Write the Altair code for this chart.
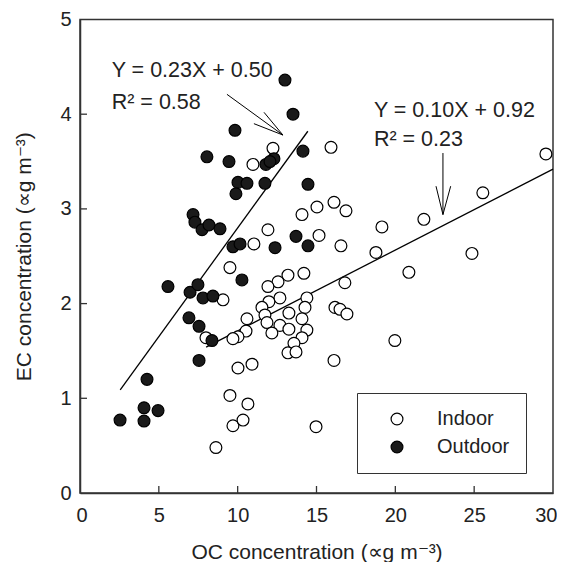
import altair as alt
import pandas as pd

# ---- data ----
indoor_oc = [12.24, 10.97, 15.92, 14.08, 15.03, 16.11, 16.87, 15.16, 19.15, 16.55,
             11.92, 11.03, 9.51, 13.19, 12.56, 11.92, 14.20, 16.80, 16.17, 16.49,
             16.93, 12.68, 11.98, 14.39, 14.27, 13.25, 11.54, 11.73, 10.59, 11.86,
             12.68, 14.08, 13.25, 12.17, 14.39, 14.08, 13.57, 13.19, 13.70, 10.53,
             10.02, 9.70, 9.07, 7.99, 10.02, 10.91, 16.11, 9.51, 10.65, 9.70,
             10.34, 8.62, 14.97, 21.81, 25.55, 29.55, 18.77, 24.86, 20.86, 19.97]
indoor_ec = [3.64, 3.47, 3.65, 2.94, 3.02, 3.07, 2.98, 2.72, 2.81, 2.61,
             2.78, 2.63, 2.38, 2.30, 2.23, 2.18, 2.32, 2.22, 1.96, 1.94,
             1.89, 2.06, 2.02, 2.06, 1.96, 1.90, 1.96, 1.88, 1.84, 1.80,
             1.77, 1.84, 1.73, 1.69, 1.72, 1.64, 1.58, 1.48, 1.49, 1.71,
             1.65, 1.63, 2.04, 1.64, 1.32, 1.36, 1.40, 1.03, 0.94, 0.71,
             0.77, 0.48, 0.70, 2.89, 3.17, 3.58, 2.54, 2.53, 2.33, 1.61]

outdoor_oc = [13.00, 13.51, 9.83, 8.05, 9.45, 14.14, 11.79, 12.30, 12.05, 14.46,
              11.73, 10.02, 10.59, 9.89, 7.17, 7.29, 7.74, 8.18, 8.88, 9.70,
              10.15, 12.37, 13.70, 14.46, 10.27, 6.98, 7.48, 7.80, 8.43, 5.58,
              6.91, 7.55, 8.37, 7.55, 4.25, 4.06, 4.95, 2.54, 4.06]
outdoor_ec = [4.36, 4.00, 3.83, 3.55, 3.50, 3.61, 3.47, 3.53, 3.50, 3.26,
              3.27, 3.28, 3.27, 3.16, 2.94, 2.86, 2.78, 2.83, 2.79, 2.60,
              2.63, 2.59, 2.71, 2.61, 2.25, 2.12, 2.20, 2.06, 2.08, 2.18,
              1.85, 1.76, 1.61, 1.40, 1.20, 0.90, 0.87, 0.77, 0.76]

series_names = ["Indoor", "Outdoor"]

x_ticks = [0, 5, 10, 15, 20, 25, 30]
y_ticks = [0, 1, 2, 3, 4, 5]
inner_x_ticks = [5, 10, 15, 20, 25]
inner_y_ticks = [1, 2, 3, 4]

# regression lines (end points as drawn)
fit_group = ["Outdoor", "Outdoor", "Indoor", "Indoor"]
fit_oc = [2.55, 14.45, 8.0, 30.0]
fit_ec = [1.09, 3.82, 1.54, 3.42]

# equation labels
eq_text = ["Y = 0.23X + 0.50", "R² = 0.58", "Y = 0.10X + 0.92", "R² = 0.23"]
eq_oc = [2.01, 2.01, 18.64, 18.64]
eq_ec = [4.39, 4.05, 3.97, 3.66]

# arrows (shaft + two barbs each)
arr_oc1 = [9.32, 11.67, 11.03, 23.02, 22.58, 23.51]
arr_ec1 = [4.21, 4.02, 3.90, 3.59, 3.24, 3.24]
arr_oc2 = [12.87, 12.87, 12.87, 23.02, 23.02, 23.02]
arr_ec2 = [3.78, 3.78, 3.78, 2.94, 2.94, 2.94]

# ---- tables ----
pts = pd.DataFrame({
    "OC": indoor_oc + outdoor_oc,
    "EC": indoor_ec + outdoor_ec,
    "Site": [series_names[0]] * len(indoor_oc) + [series_names[1]] * len(outdoor_oc),
})
fits = pd.DataFrame({"grp": fit_group, "OC": fit_oc, "EC": fit_ec})
eqs = pd.DataFrame({"t": eq_text, "OC": eq_oc, "EC": eq_ec})
arrows = pd.DataFrame({"x1": arr_oc1, "y1": arr_ec1, "x2": arr_oc2, "y2": arr_ec2})
xt = pd.DataFrame({"v": inner_x_ticks})
yt = pd.DataFrame({"v": inner_y_ticks})

FONT = "Liberation Sans"
INK = "#222222"
FRAME = "#333333"
W, H = 473, 473.5

xscale = alt.Scale(domain=[0, 30], nice=False, zero=False)
yscale = alt.Scale(domain=[0, 5], nice=False, zero=False)

x_axis = alt.Axis(values=x_ticks, format="d", title="OC concentration (∝g m⁻³)", ticks=False,
                  tickSize=0, grid=False, labelFontSize=20, labelPadding=12, titleFontSize=21,
                  titlePadding=16, titleFontWeight="normal", labelColor=INK, titleColor=INK,
                  domainColor=FRAME, domainWidth=1.5, labelFlush=True, labelFlushOffset=4)
y_axis = alt.Axis(values=y_ticks, format="d", title="EC concentration (∝g m⁻³)", ticks=False,
                  tickSize=0, grid=False, labelFontSize=20, labelPadding=9, titleFontSize=21,
                  titlePadding=25, titleFontWeight="normal", labelColor=INK, titleColor=INK,
                  domainColor=FRAME, domainWidth=1.5, labelFlush=False)

points = alt.Chart(pts).mark_circle(size=140, stroke="black", strokeWidth=1.2, opacity=1).encode(
    x=alt.X("OC:Q", scale=xscale, axis=x_axis),
    y=alt.Y("EC:Q", scale=yscale, axis=y_axis),
    fill=alt.Fill("Site:N", scale=alt.Scale(domain=series_names, range=["white", "#1a1a1a"]),
                  legend=alt.Legend(title=None, orient="none", legendX=277, legendY=373.5,
                                    strokeColor=FRAME, fillColor="white", padding=16,
                                    symbolOffset=14, labelOffset=30, labelFontSize=20,
                                    labelColor=INK, rowPadding=8, symbolSize=140,
                                    symbolType="circle", symbolStrokeColor="black",
                                    symbolStrokeWidth=1.2)),
)

fit_lines = alt.Chart(fits).mark_line(color="black", strokeWidth=1.3).encode(
    x=alt.X("OC:Q", scale=xscale), y=alt.Y("EC:Q", scale=yscale), detail="grp:N"
)

arrow_rules = alt.Chart(arrows).mark_rule(color="black", strokeWidth=1).encode(
    x=alt.X("x1:Q", scale=xscale), y=alt.Y("y1:Q", scale=yscale),
    x2="x2:Q", y2="y2:Q"
)

eq_labels = alt.Chart(eqs).mark_text(align="left", baseline="alphabetic", fontSize=21.5,
                                     font=FONT, color=INK).encode(
    x=alt.X("OC:Q", scale=xscale), y=alt.Y("EC:Q", scale=yscale), text="t:N"
)

x_tick_marks = alt.Chart(xt).mark_rule(color=FRAME, strokeWidth=1.3).encode(
    x=alt.X("v:Q", scale=xscale), y=alt.value(H), y2=alt.value(H - 7)
)
y_tick_marks = alt.Chart(yt).mark_rule(color=FRAME, strokeWidth=1.3).encode(
    y=alt.Y("v:Q", scale=yscale), x=alt.value(0), x2=alt.value(7)
)

chart = alt.layer(
    x_tick_marks, y_tick_marks, fit_lines, arrow_rules, points, eq_labels
).properties(
    width=W, height=H,
    autosize=alt.AutoSizeParams(type="none"),
    padding={"left": 72, "top": 11.5, "right": 4, "bottom": 69},
).configure(
    font=FONT, background="white"
).configure_view(
    stroke=FRAME, strokeWidth=1.5
)

chart.save("out.html", embed_options={"renderer": "svg", "actions": False})
